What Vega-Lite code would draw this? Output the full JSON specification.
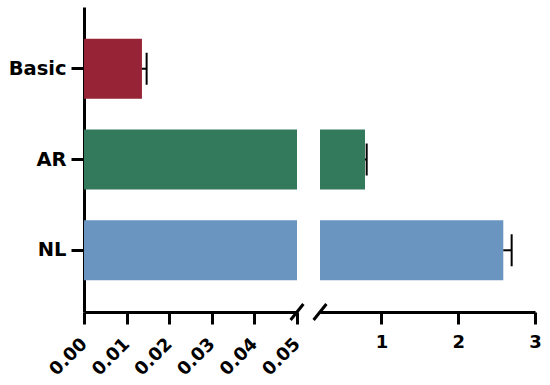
{
  "$schema": "https://vega.github.io/schema/vega-lite/v6.json",
  "padding": {"left": 5, "top": 7, "right": 5, "bottom": 5},
  "background": "white",
  "config": {
    "view": {"stroke": null},
    "font": "DejaVu Sans",
    "axis": {
      "domainColor": "black", "domainWidth": 3,
      "tickColor": "black", "tickWidth": 3, "tickSize": 12,
      "labelColor": "black", "labelFont": "DejaVu Sans", "labelFontWeight": "bold",
      "labelOverlap": false, "labelFlush": false,
      "grid": false, "title": null
    }
  },
  "data": {"values": [
    {"group": "Basic", "mean": 0.0136, "upper": 0.0147},
    {"group": "AR", "mean": 0.786, "upper": 0.808},
    {"group": "NL", "mean": 2.587, "upper": 2.696}
  ]},
  "spacing": 23,
  "bounds": "flush",
  "hconcat": [
    {
      "width": 213, "height": 305,
      "layer": [
        {
          "mark": {"type": "bar"},
          "encoding": {
            "y": {"field": "group", "type": "nominal", "sort": ["Basic", "AR", "NL"],
                  "scale": {"paddingInner": 0.34, "paddingOuter": 0.35},
                  "axis": {"labelFontSize": 19.5, "labelPadding": 5, "tickSize": 13, "minExtent": 79, "maxExtent": 79, "title": null}},
            "x": {"field": "mean", "type": "quantitative",
                  "scale": {"domain": [0, 0.05], "clamp": true, "nice": false, "zero": true},
                  "axis": {"values": [0, 0.01, 0.02, 0.03, 0.04, 0.05], "format": ".2f", "labelAngle": -45, "labelAlign": "right", "labelBaseline": "middle", "labelFontSize": 18, "labelPadding": 17, "title": null}},
            "color": {"field": "group", "type": "nominal",
                      "scale": {"domain": ["Basic", "AR", "NL"], "range": ["#962336", "#33795C", "#6995C0"]},
                      "legend": null}
          }
        },
        {
          "transform": [{"filter": "datum.mean < 0.05"}],
          "mark": {"type": "rule", "color": "black", "strokeWidth": 2, "opacity": 1},
          "encoding": {
            "y": {"field": "group", "type": "nominal", "sort": ["Basic", "AR", "NL"]},
            "x": {"field": "mean", "type": "quantitative"},
            "x2": {"field": "upper"}
          }
        },
        {
          "transform": [{"filter": "datum.mean < 0.05"}],
          "mark": {"type": "tick", "color": "black", "thickness": 2, "size": 32, "opacity": 1},
          "encoding": {
            "y": {"field": "group", "type": "nominal", "sort": ["Basic", "AR", "NL"]},
            "x": {"field": "upper", "type": "quantitative"}
          }
        },
        {
          "transform": [{"filter": "datum.group == 'NL'"}],
          "mark": {"type": "point", "shape": "M-0.8,1L0.8,-1", "size": 256, "filled": false, "stroke": "black", "strokeWidth": 3, "opacity": 1},
          "encoding": {
            "x": {"datum": 0.05, "type": "quantitative"},
            "y": {"value": "height"}
          }
        }
      ]
    },
    {
      "width": 215, "height": 305,
      "layer": [
        {
          "transform": [{"filter": "datum.mean > 0.2"}],
          "mark": {"type": "bar"},
          "encoding": {
            "y": {"field": "group", "type": "nominal", "sort": ["Basic", "AR", "NL"],
                  "scale": {"domain": ["Basic", "AR", "NL"], "paddingInner": 0.34, "paddingOuter": 0.35},
                  "axis": null},
            "x": {"field": "mean", "type": "quantitative",
                  "scale": {"domain": [0.2, 3], "nice": false, "zero": false},
                  "axis": {"values": [1, 2, 3], "format": "d", "labelAngle": 0, "labelFontSize": 18, "labelPadding": 9, "title": null}},
            "x2": {"datum": 0.2},
            "color": {"field": "group", "type": "nominal",
                      "scale": {"domain": ["Basic", "AR", "NL"], "range": ["#962336", "#33795C", "#6995C0"]},
                      "legend": null}
          }
        },
        {
          "transform": [{"filter": "datum.mean > 0.2"}],
          "mark": {"type": "rule", "color": "black", "strokeWidth": 2, "opacity": 1},
          "encoding": {
            "y": {"field": "group", "type": "nominal", "sort": ["Basic", "AR", "NL"]},
            "x": {"field": "mean", "type": "quantitative"},
            "x2": {"field": "upper"}
          }
        },
        {
          "transform": [{"filter": "datum.mean > 0.2"}],
          "mark": {"type": "tick", "color": "black", "thickness": 2, "size": 32, "opacity": 1},
          "encoding": {
            "y": {"field": "group", "type": "nominal", "sort": ["Basic", "AR", "NL"]},
            "x": {"field": "upper", "type": "quantitative"}
          }
        },
        {
          "transform": [{"filter": "datum.group == 'NL'"}],
          "mark": {"type": "point", "shape": "M-0.8,1L0.8,-1", "size": 256, "filled": false, "stroke": "black", "strokeWidth": 3, "opacity": 1},
          "encoding": {
            "x": {"datum": 0.2, "type": "quantitative"},
            "y": {"value": "height"}
          }
        }
      ]
    }
  ]
}
